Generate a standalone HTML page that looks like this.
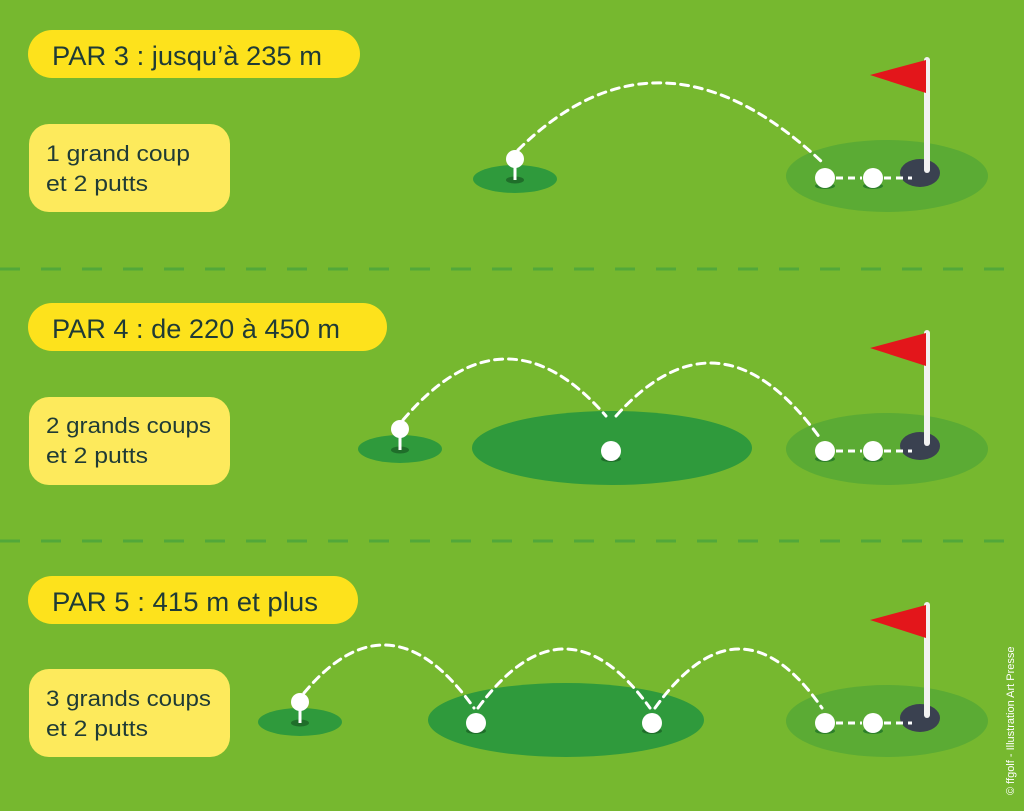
<!DOCTYPE html>
<html><head><meta charset="utf-8"><style>
html,body{margin:0;padding:0;background:#76b82f;}
svg{display:block}
text{font-family:"Liberation Sans",sans-serif;fill:#1f3b36}
</style></head><body>
<svg width="1024" height="811" viewBox="0 0 1024 811" xmlns="http://www.w3.org/2000/svg">
<rect width="1024" height="811" fill="#76b82f"/>
<line x1="0" y1="269" x2="1024" y2="269" stroke="#52a83a" stroke-width="3" stroke-dasharray="20 21"/>
<line x1="0" y1="541" x2="1024" y2="541" stroke="#52a83a" stroke-width="3" stroke-dasharray="20 21"/>
<defs>
<g id="green">
  <ellipse cx="887" cy="176" rx="101" ry="36" fill="#5bab34"/>
  <ellipse cx="920" cy="173" rx="20" ry="14" fill="#3a4150"/>
  <rect x="924" y="57" width="6" height="116" rx="3" fill="#f2f2f2"/>
  <polygon points="870,75 926,60 926,93" fill="#e3161b"/>
  <line x1="836" y1="178" x2="862" y2="178" stroke="#fff" stroke-width="3" stroke-dasharray="7 5"/>
  <line x1="884" y1="178" x2="912" y2="178" stroke="#fff" stroke-width="3" stroke-dasharray="7 5"/>
  <ellipse cx="825" cy="186" rx="10" ry="3" fill="#2d7f2a"/>
  <circle cx="825" cy="178" r="10" fill="#fff"/>
  <ellipse cx="873" cy="186" rx="10" ry="3" fill="#2d7f2a"/>
  <circle cx="873" cy="178" r="10" fill="#fff"/>
</g>
<g id="tee">
  <ellipse cx="0" cy="0" rx="42" ry="14" fill="#2f9a3c"/>
  <ellipse cx="0" cy="1" rx="9" ry="3.5" fill="#1f6e2a"/>
  <rect x="-1.5" y="-12" width="3" height="13" fill="#fff"/>
  <circle cx="0" cy="-20" r="9" fill="#fff"/>
</g>
</defs>
<!-- row 1 -->
<rect x="28" y="30" width="332" height="48" rx="24" fill="#fde21c"/>
<text x="52" y="65" font-size="27" textLength="270" lengthAdjust="spacingAndGlyphs">PAR 3 : jusqu’à 235 m</text>
<rect x="29" y="124" width="201" height="88" rx="20" fill="#fdea5c"/>
<text x="46" y="161" font-size="22" textLength="144" lengthAdjust="spacingAndGlyphs">1 grand coup</text>
<text x="46" y="191" font-size="22" textLength="102" lengthAdjust="spacingAndGlyphs">et 2 putts</text>
<use href="#tee" x="515" y="179"/>
<use href="#green"/>
<!-- row 2 -->
<rect x="28" y="303" width="359" height="48" rx="24" fill="#fde21c"/>
<text x="52" y="338" font-size="27" textLength="288" lengthAdjust="spacingAndGlyphs">PAR 4 : de 220 à 450 m</text>
<rect x="29" y="397" width="201" height="88" rx="20" fill="#fdea5c"/>
<text x="46" y="433" font-size="22" textLength="165" lengthAdjust="spacingAndGlyphs">2 grands coups</text>
<text x="46" y="463" font-size="22" textLength="102" lengthAdjust="spacingAndGlyphs">et 2 putts</text>
<use href="#tee" x="400" y="449"/>
<ellipse cx="612" cy="448" rx="140" ry="37" fill="#2f9a3c"/>
<ellipse cx="611" cy="459" rx="10" ry="3" fill="#1f6e2a"/>
<circle cx="611" cy="451" r="10" fill="#fff"/>
<use href="#green" y="273"/>
<!-- row 3 -->
<rect x="28" y="576" width="330" height="48" rx="24" fill="#fde21c"/>
<text x="52" y="611" font-size="27" textLength="266" lengthAdjust="spacingAndGlyphs">PAR 5 : 415 m et plus</text>
<rect x="29" y="669" width="201" height="88" rx="20" fill="#fdea5c"/>
<text x="46" y="706" font-size="22" textLength="165" lengthAdjust="spacingAndGlyphs">3 grands coups</text>
<text x="46" y="736" font-size="22" textLength="102" lengthAdjust="spacingAndGlyphs">et 2 putts</text>
<use href="#tee" x="300" y="722"/>
<ellipse cx="566" cy="720" rx="138" ry="37" fill="#2f9a3c"/>
<ellipse cx="476" cy="731" rx="10" ry="3" fill="#1f6e2a"/>
<circle cx="476" cy="723" r="10" fill="#fff"/>
<ellipse cx="652" cy="731" rx="10" ry="3" fill="#1f6e2a"/>
<circle cx="652" cy="723" r="10" fill="#fff"/>
<use href="#green" y="545"/>
<g fill="none" stroke="#fff" stroke-width="3" stroke-dasharray="8 6" stroke-linecap="round">
  <path d="M518,150 Q660,10 822,162"/>
  <path d="M403,420 Q505,300 606,416"/>
  <path d="M616,416 Q720,300 820,438"/>
  <path d="M304,693 Q390,590 474,708"/>
  <path d="M478,708 Q565,590 650,708"/>
  <path d="M655,708 Q740,590 822,708"/>
</g>
<text x="0" y="0" font-size="11" style="fill:#ffffff" transform="translate(1014,795) rotate(-90)">© ffgolf - Illustration Art Presse</text>
</svg>
</body></html>
